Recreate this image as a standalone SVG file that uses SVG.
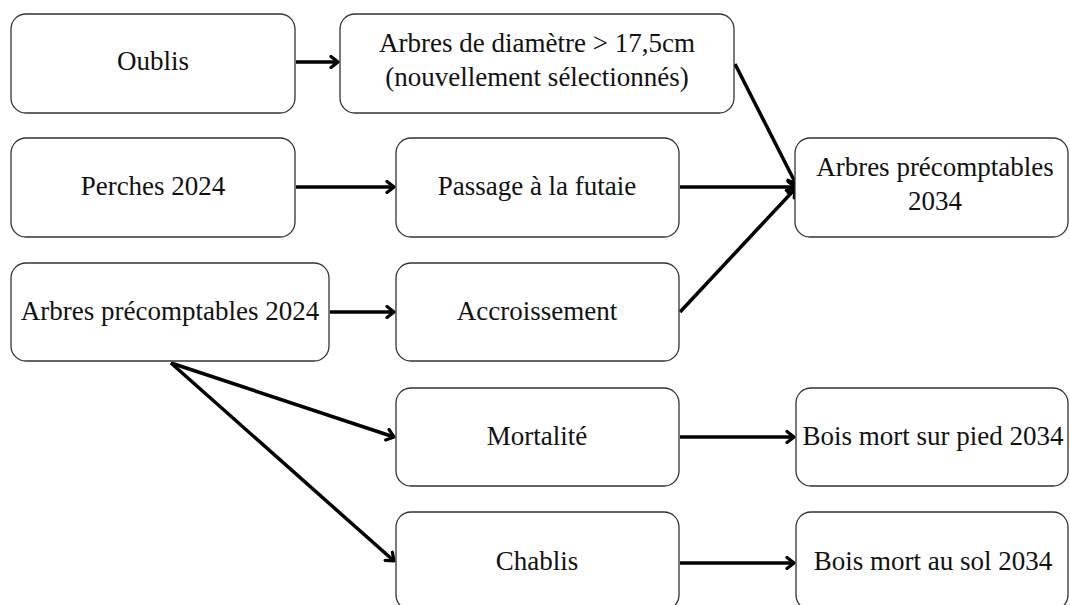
<svg xmlns="http://www.w3.org/2000/svg" width="1070" height="605" viewBox="0 0 1070 605">
<style>
.box{fill:#fff;stroke:#333;stroke-width:1.3}
.t{font-family:"Liberation Serif","Times New Roman",serif;font-size:27px;fill:#111;text-anchor:middle}
.c{stroke:#000;stroke-width:3.5;fill:none}
</style>
<defs>
<marker id="ah" markerWidth="12" markerHeight="14" refX="9" refY="7" orient="auto" markerUnits="userSpaceOnUse">
<path d="M2,1.5 L9,7 L2,12.5" fill="none" stroke="#000" stroke-width="3.2" stroke-linecap="round" stroke-linejoin="round"/>
</marker>
</defs>
<rect width="1070" height="605" fill="#fff"/>
<g id="connectors">
<line class="c" x1="296" y1="62" x2="338" y2="62" marker-end="url(#ah)"/>
<line class="c" x1="296" y1="187" x2="394" y2="187" marker-end="url(#ah)"/>
<line class="c" x1="330" y1="312" x2="394" y2="312" marker-end="url(#ah)"/>
<line class="c" x1="735" y1="64" x2="796" y2="184" marker-end="url(#ah)"/>
<line class="c" x1="680" y1="187" x2="795" y2="187" marker-end="url(#ah)"/>
<line class="c" x1="680" y1="312" x2="795" y2="189" marker-end="url(#ah)"/>
<line class="c" x1="171" y1="363" x2="394" y2="437" marker-end="url(#ah)"/>
<line class="c" x1="171" y1="363" x2="394" y2="561" marker-end="url(#ah)"/>
<line class="c" x1="680" y1="437" x2="794" y2="437" marker-end="url(#ah)"/>
<line class="c" x1="680" y1="563" x2="794" y2="563" marker-end="url(#ah)"/>
</g>
<g id="oublis"><rect class="box" x="11" y="14" width="284" height="99" rx="15"/><text class="t" x="153" y="70">Oublis</text></g>
<g id="arbres-diametre"><rect class="box" x="340" y="14" width="394" height="99" rx="15"/><text class="t" x="537" y="52">Arbres de diamètre &gt; 17,5cm</text><text class="t" x="537" y="86">(nouvellement sélectionnés)</text></g>
<g id="perches"><rect class="box" x="11" y="138" width="284" height="99" rx="15"/><text class="t" x="153" y="195">Perches 2024</text></g>
<g id="passage"><rect class="box" x="396" y="138" width="283" height="99" rx="15"/><text class="t" x="537" y="195">Passage à la futaie</text></g>
<g id="arbres-2034"><rect class="box" x="795" y="138" width="273" height="99" rx="15"/><text class="t" x="935" y="176">Arbres précomptables</text><text class="t" x="935" y="210">2034</text></g>
<g id="arbres-2024"><rect class="box" x="11" y="263" width="318" height="98" rx="15"/><text class="t" x="170" y="320">Arbres précomptables 2024</text></g>
<g id="accroissement"><rect class="box" x="396" y="263" width="283" height="98" rx="15"/><text class="t" x="537" y="320">Accroissement</text></g>
<g id="mortalite"><rect class="box" x="396" y="388" width="283" height="98" rx="15"/><text class="t" x="537" y="445">Mortalité</text></g>
<g id="bois-pied"><rect class="box" x="796" y="388" width="272" height="98" rx="15"/><text class="t" x="933" y="445">Bois mort sur pied 2034</text></g>
<g id="chablis"><rect class="box" x="396" y="512" width="283" height="98" rx="15"/><text class="t" x="537" y="570">Chablis</text></g>
<g id="bois-sol"><rect class="box" x="796" y="512" width="272" height="98" rx="15"/><text class="t" x="933" y="570">Bois mort au sol 2034</text></g>
</svg>
